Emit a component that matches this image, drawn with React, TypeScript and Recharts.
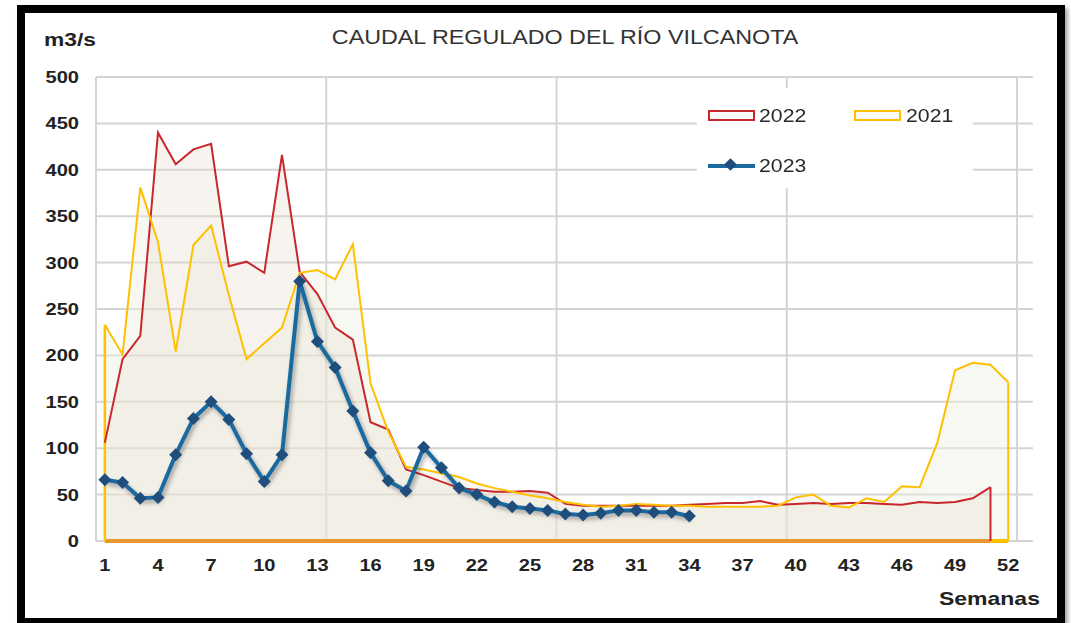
import React from "react";
import {
  ComposedChart,
  Area,
  Line,
  XAxis,
  YAxis,
  CartesianGrid,
  ReferenceLine,
} from "recharts";

// semanas del año
const weeks = Array.from({ length: 52 }, (_, i) => i + 1);

// caudal regulado (m3/s)
const caudal2021 = [
  233, 201, 381, 322, 204, 319, 340, 265, 196, 213, 230, 289, 292, 282, 320,
  170, 118, 80, 77, 73, 69, 62, 57, 53, 49, 46, 42, 39, 37, 38, 40, 39, 38, 38,
  37, 37, 37, 37, 38, 47, 50, 38, 36, 46, 42, 59, 58, 106, 184, 192, 190, 171,
];
const caudal2022 = [
  106, 196, 221, 440, 406, 422, 428, 296, 301, 289, 416, 290, 266, 230, 217,
  128, 120, 77, 71, 64, 57, 55, 53, 53, 54, 52, 40, 38, 38, 38, 38, 38, 38, 39,
  40, 41, 41, 43, 39, 40, 41, 40, 41, 41, 40, 39, 42, 41, 42, 46, 58,
];
const caudal2023 = [
  66, 63, 46, 47, 93, 132, 150, 131, 94, 64, 93, 280, 215, 187, 140, 95, 65, 54,
  101, 79, 57, 50, 42, 37, 35, 33, 29, 28, 30, 33, 33, 31, 31, 27,
];

const xTicks = [1, 4, 7, 10, 13, 16, 19, 22, 25, 28, 31, 34, 37, 40, 43, 46, 49, 52];
const yTicks = [0, 50, 100, 150, 200, 250, 300, 350, 400, 450, 500];
const gridWeeks = [13.5, 26.5, 39.5, 52.5];

const FONT = '"Liberation Sans", Arial, Helvetica, sans-serif';
const STRETCH = 1.18;
const RED = "#C8282C";
const GOLD = "#FFC000";
const ORANGE = "#E8962E";
const BLUE = "#1A6AA0";
const NAVY = "#1F4E7D";
const GRID = "#d4d4d4";

const data = weeks.map((week, i) => ({
  week,
  y2021: caudal2021[i] ?? null,
  y2022: caudal2022[i] ?? null,
  y2023: caudal2023[i] ?? null,
}));

const last2021 = caudal2021.length;
const last2022 = caudal2022.length;

function WideText({ x, y, anchor = "start", size, bold = false, fill = "#222", sx = STRETCH, children }: any) {
  return (
    <text
      transform={`translate(${x},${y}) scale(${sx},1)`}
      textAnchor={anchor}
      fontSize={size}
      fontWeight={bold ? 700 : 400}
      fontFamily={FONT}
      fill={fill}
    >
      {children}
    </text>
  );
}

function XTick({ x, y, payload }: any) {
  return (
    <WideText x={x} y={y + 30} anchor="middle" size={17} bold>
      {payload.value}
    </WideText>
  );
}

function YTick({ x, y, payload }: any) {
  return (
    <WideText x={x - 17} y={y + 6} anchor="end" size={17} bold>
      {payload.value}
    </WideText>
  );
}

function Diamond({ cx, cy }: any) {
  if (cx == null || cy == null || isNaN(cy)) return null;
  const r = 6.5;
  return (
    <path
      d={`M${cx},${cy - r}L${cx + r},${cy}L${cx},${cy + r}L${cx - r},${cy}Z`}
      fill={NAVY}
    />
  );
}

function gridX({ xAxis }: any) {
  const s = xAxis.scale;
  const f = typeof s === "function" ? s : (v: number) => s.map(v);
  return gridWeeks.map((w) => f(w));
}

function Legenda() {
  const label = (text: string, left: number, top: number) => (
    <span
      style={{
        position: "absolute",
        left,
        top,
        fontFamily: FONT,
        fontSize: 18,
        lineHeight: "20px",
        color: "#2a2a2a",
        transform: `scaleX(${STRETCH})`,
        transformOrigin: "left center",
        whiteSpace: "nowrap",
      }}
    >
      {text}
    </span>
  );
  const box = (color: string, left: number) => (
    <div
      style={{
        position: "absolute",
        left,
        top: 22,
        width: 47,
        height: 11,
        boxSizing: "border-box",
        border: `2px solid ${color}`,
        background: "#fcfaf7",
      }}
    />
  );
  return (
    <div
      style={{
        position: "absolute",
        left: 697,
        top: 88,
        width: 276,
        height: 100,
        background: "#fff",
      }}
    >
      {box(RED, 11)}
      {label("2022", 62, 18)}
      {box(GOLD, 157)}
      {label("2021", 209, 18)}
      <div
        style={{
          position: "absolute",
          left: 11,
          top: 76,
          width: 47,
          height: 4,
          background: BLUE,
        }}
      />
      <div
        style={{
          position: "absolute",
          left: 29,
          top: 72,
          width: 9,
          height: 9,
          background: NAVY,
          transform: "rotate(45deg)",
        }}
      />
      {label("2023", 62, 68)}
    </div>
  );
}

export default function App() {
  return (
    <div
      style={{
        position: "absolute",
        left: 0,
        top: 0,
        width: 1071,
        height: 623,
        background: "#fff",
        overflow: "hidden",
      }}
    >
      <style>{`.serie-2023 { filter: drop-shadow(2px 3px 2px rgba(0,0,0,0.35)); }`}</style>
      <div style={{ position: "absolute", left: 0, top: 0 }}>
        <ComposedChart
          width={1071}
          height={623}
          data={data}
          margin={{ top: 77, right: 38, bottom: 42, left: 36 }}
        >
          <CartesianGrid
            stroke={GRID}
            strokeWidth={2}
            verticalCoordinatesGenerator={gridX}
          />
          <XAxis
            dataKey="week"
            type="number"
            domain={[0.5, 53.4]}
            allowDataOverflow
            ticks={xTicks}
            interval={0}
            height={40}
            tickSize={0}
            tickMargin={0}
            tickLine={false}
            axisLine={false}
            tick={<XTick />}
          />
          <YAxis
            domain={[0, 500]}
            ticks={yTicks}
            interval={0}
            width={60}
            tickSize={0}
            tickMargin={0}
            tickLine={false}
            axisLine={{ stroke: GRID, strokeWidth: 2 }}
            tick={<YTick />}
          />
          {/* rellenos */}
          <Area
            type="linear"
            dataKey="y2021"
            stroke="none"
            fill="#f0efe3"
            fillOpacity={0.45}
            dot={false}
            activeDot={false}
            isAnimationActive={false}
          />
          <Area
            type="linear"
            dataKey="y2022"
            stroke="none"
            fill="#e4dccd"
            fillOpacity={0.3}
            dot={false}
            activeDot={false}
            isAnimationActive={false}
          />
          {/* bordes cerrados de las áreas */}
          <ReferenceLine
            segment={[
              { x: weeks[0], y: 0 },
              { x: last2022, y: 0 },
            ]}
            stroke={ORANGE}
            strokeWidth={4}
            ifOverflow="visible"
          />
          <ReferenceLine
            segment={[
              { x: last2022, y: 0 },
              { x: last2021, y: 0 },
            ]}
            stroke={GOLD}
            strokeWidth={4}
            ifOverflow="visible"
          />
          <ReferenceLine
            segment={[
              { x: weeks[0], y: 0 },
              { x: weeks[0], y: caudal2021[0] },
            ]}
            stroke={GOLD}
            strokeWidth={2.5}
            ifOverflow="visible"
          />
          <ReferenceLine
            segment={[
              { x: last2022, y: 0 },
              { x: last2022, y: caudal2022[last2022 - 1] },
            ]}
            stroke={RED}
            strokeWidth={2}
            ifOverflow="visible"
          />
          <ReferenceLine
            segment={[
              { x: last2021, y: 0 },
              { x: last2021, y: caudal2021[last2021 - 1] },
            ]}
            stroke={GOLD}
            strokeWidth={2}
            ifOverflow="visible"
          />
          {/* contornos */}
          <Line
            type="linear"
            dataKey="y2022"
            stroke={RED}
            strokeWidth={2}
            dot={false}
            activeDot={false}
            isAnimationActive={false}
          />
          <Line
            type="linear"
            dataKey="y2021"
            stroke={GOLD}
            strokeWidth={2}
            dot={false}
            activeDot={false}
            isAnimationActive={false}
          />
          <Line
            className="serie-2023"
            type="linear"
            dataKey="y2023"
            stroke={BLUE}
            strokeWidth={4}
            dot={(p: any) => <Diamond key={`d-${p.index}`} cx={p.cx} cy={p.cy} />}
            activeDot={false}
            isAnimationActive={false}
          />
        </ComposedChart>
      </div>
      <svg
        width={1071}
        height={623}
        style={{ position: "absolute", left: 0, top: 0, pointerEvents: "none" }}
      >
        <WideText x={565} y={44} anchor="middle" size={20} fill="#333" sx={1.165}>
          CAUDAL REGULADO DEL RÍO VILCANOTA
        </WideText>
        <WideText x={44} y={46} size={19} bold sx={1.2}>
          m3/s
        </WideText>
        <WideText x={939} y={605} size={19} bold sx={1.21}>
          Semanas
        </WideText>
      </svg>
      <Legenda />
      <div
        style={{
          position: "absolute",
          left: 17,
          top: 5,
          width: 1048,
          height: 621,
          boxSizing: "border-box",
          border: "8px solid #000",
          boxShadow: "3px 3px 4px rgba(0,0,0,0.35)",
          pointerEvents: "none",
        }}
      />
    </div>
  );
}
